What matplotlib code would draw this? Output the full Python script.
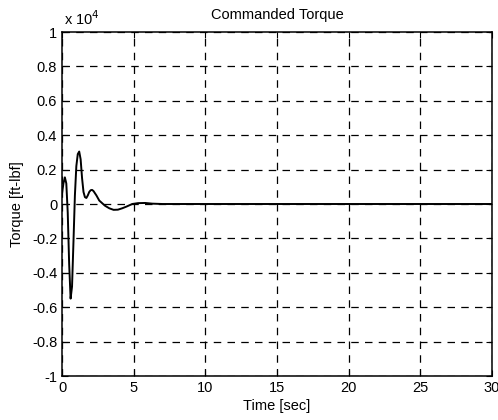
import matplotlib
matplotlib.use("Agg")
import matplotlib.pyplot as plt
from matplotlib.ticker import FuncFormatter

plt.rcParams['font.family'] = ['Liberation Sans', 'DejaVu Sans']

time_s = [0, 0.1, 0.2, 0.3, 0.4, 0.5, 0.6, 0.7, 0.8, 0.9, 1.0, 1.1, 1.2, 1.3,
          1.4, 1.5, 1.6, 1.7, 1.8, 1.9, 2.0, 2.1, 2.2, 2.4, 2.6, 2.8, 3.0,
          3.3, 3.6, 3.9, 4.2, 4.5, 4.9, 5.3, 5.8, 6.3, 7.0, 8.0, 30.0]
torque = [600, 1200, 1550, 1200, -500, -3500, -5500, -4800, -2200, 500, 2200,
          2900, 3050, 2600, 1500, 700, 400, 350, 500, 700, 800, 820, 750, 500,
          200, 50, -100, -250, -340, -330, -250, -150, 0, 50, 60, 20, 0, 0, 0]

x_ticks = [0, 5, 10, 15, 20, 25, 30]
y_ticks = [-1, -0.8, -0.6, -0.4, -0.2, 0, 0.2, 0.4, 0.6, 0.8, 1]
scale = 1e4

fig = plt.figure(figsize=(4.98, 4.2), dpi=100)
ax = fig.add_axes([62/498, 1-376/420, 430/498, 344/420])
ax.plot(time_s, [v/scale for v in torque], color='black', lw=1.4)
ax.set_xlim(0, 30)
ax.set_ylim(-1, 1)
ax.set_xticks(x_ticks)
ax.set_yticks(y_ticks)
ax.yaxis.set_major_formatter(FuncFormatter(lambda v, p: '%g' % round(v, 2)))
ax.grid(True, color='black', linestyle=(0, (6, 5)), lw=0.9)
ax.tick_params(direction='in', length=4, labelsize=10.5, colors='black', top=True, right=True)
for s in ax.spines.values():
    s.set_linewidth(1.1)
ax.set_title('Commanded Torque', fontsize=10.5, pad=9)
ax.set_xlabel('Time [sec]', fontsize=10.5, labelpad=3)
ax.set_ylabel('Torque [ft-lbf]', fontsize=10.5, labelpad=6)
ax.text(0.005, 1.012, r'x 10$^4$', transform=ax.transAxes, fontsize=10.5, va='bottom', ha='left')
fig.savefig('out.png', dpi=100)
